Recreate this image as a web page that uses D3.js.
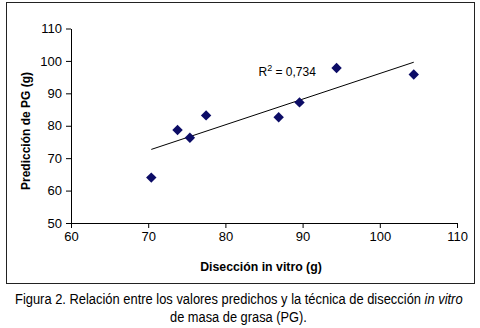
<!DOCTYPE html>
<html><head><meta charset="utf-8">
<script src="https://cdn.jsdelivr.net/npm/d3@7"></script>
<style>
html,body{margin:0;padding:0;background:#fff;}
svg{display:block;font-family:Arial,"Liberation Sans",sans-serif;}
</style></head>
<body>
<svg id="c" width="480" height="328"></svg>
<script>
const xVals = [70.4, 73.8, 75.4, 77.5, 86.9, 89.6, 94.4, 104.4];
const yVals = [64.0, 78.7, 76.3, 83.2, 82.6, 87.2, 97.8, 95.8];
const trendX = [70.4, 104.4];
const trendY = [72.7, 99.6];
const xTicks = [60, 70, 80, 90, 100, 110];
const yTicks = [50, 60, 70, 80, 90, 100, 110];
const r2Label = "0,734";

const svg = d3.select("#c");
const x = d3.scaleLinear().domain([60, 110]).range([71, 457]);
const y = d3.scaleLinear().domain([50, 110]).range([223, 28.5]);

// frame
svg.append("rect").attr("x", 6.5).attr("y", 2.5).attr("width", 468).attr("height", 281)
  .attr("fill", "none").attr("stroke", "#222").attr("stroke-width", 1);

const xa = svg.append("g").attr("transform", "translate(0,223)")
  .call(d3.axisBottom(x).tickValues(xTicks).tickSize(5).tickPadding(4).tickSizeOuter(0));
const ya = svg.append("g").attr("transform", "translate(71,0)")
  .call(d3.axisLeft(y).tickValues(yTicks).tickSize(5).tickPadding(4).tickSizeOuter(0));
[xa, ya].forEach(a => {
  a.selectAll("path,line").attr("stroke", "#000");
  a.selectAll("text").attr("font-size", 13).attr("fill", "#000")
    .attr("font-family", "Arial, 'Liberation Sans', sans-serif");
});

// trend line
svg.append("line")
  .attr("x1", x(trendX[0])).attr("y1", y(trendY[0]))
  .attr("x2", x(trendX[1])).attr("y2", y(trendY[1]))
  .attr("stroke", "#000").attr("stroke-width", 1);

// points
const pts = xVals.map((v, i) => ({x: v, y: yVals[i]}));
svg.selectAll(".pt").data(pts).enter().append("path")
  .attr("class", "pt")
  .attr("d", "M0,-5.2L5.2,0L0,5.2L-5.2,0Z")
  .attr("transform", d => `translate(${x(d.x)},${y(d.y)})`)
  .attr("fill", "#0c0c66");

// R2 label
const r2 = svg.append("text").attr("x", 258.5).attr("y", 76)
  .attr("font-size", 12).attr("fill", "#000");
r2.append("tspan").text("R");
r2.append("tspan").attr("font-size", 9).attr("dy", -5).text("2");
r2.append("tspan").attr("dy", 5).text(" = " + r2Label);

// axis titles
svg.append("text").attr("x", 261).attr("y", 271).attr("text-anchor", "middle")
  .attr("font-size", 12.3).attr("font-weight", "bold").text("Disección in vitro (g)");
svg.append("text").attr("transform", "translate(30,131) rotate(-90)")
  .attr("text-anchor", "middle").attr("font-size", 12).attr("font-weight", "bold")
  .text("Predicción de PG (g)");

// caption (condensed via horizontal scaling)
function condensed(cx, cy, width, build) {
  const g = svg.append("g");
  const t = g.append("text").attr("x", 0).attr("y", 0)
    .attr("font-size", 14.5).attr("fill", "#000");
  build(t);
  const w = t.node().getComputedTextLength();
  const s = width / w;
  g.attr("transform", `translate(${cx - width / 2},${cy}) scale(${s},1)`);
}
condensed(239, 304, 448, t => {
  t.append("tspan").text("Figura 2. Relación entre los valores predichos y la técnica de disección ");
  t.append("tspan").attr("font-style", "italic").text("in vitro");
});
condensed(238.5, 322, 137, t => t.text("de masa de grasa (PG)."));
</script>
</body></html>
